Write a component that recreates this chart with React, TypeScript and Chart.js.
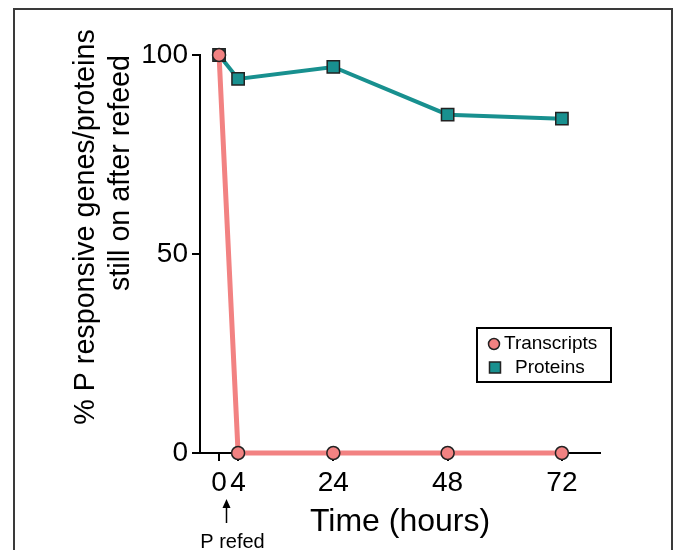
import React, { useEffect, useRef } from "react";
import { Chart, registerables } from "chart.js";

Chart.register(...registerables);

// ---- data ----
const hours = [0, 4, 24, 48, 72];
const transcripts = [100, 0, 0, 0, 0];
const proteins = [100, 94, 97, 85, 84];
const xTickValues = [0, 4, 24, 48, 72];
const yTickValues = [0, 50, 100];
const seriesLabels = ["Transcripts", "Proteins"];
const yTitleLines = ["% P responsive genes/proteins", "still on after refeed"];
const xTitle = "Time (hours)";
const refedLabel = "P refed";

const FONT = "'Liberation Sans', Arial, Helvetica, sans-serif";
const SALMON = "#F28282";
const TEAL = "#18908F";
const EDGE = "#222222";

const decorPlugin = {
  id: "decor",
  afterDraw(chart: any) {
    const ctx: CanvasRenderingContext2D = chart.ctx;
    const xs = chart.scales.x;
    ctx.save();
    // outer frame
    ctx.strokeStyle = "#3a3a3a";
    ctx.lineWidth = 2;
    ctx.beginPath();
    ctx.moveTo(14, 560);
    ctx.lineTo(14, 9);
    ctx.lineTo(672, 9);
    ctx.lineTo(672, 560);
    ctx.stroke();

    // y title lines
    ctx.fillStyle = "#000";
    ctx.font = `28.7px ${FONT}`;
    ctx.textAlign = "center";
    ctx.textBaseline = "middle";
    ctx.save();
    ctx.translate(86, 227);
    ctx.rotate(-Math.PI / 2);
    ctx.fillText(yTitleLines[0], 0, 0);
    ctx.restore();
    ctx.save();
    ctx.translate(121, 173);
    ctx.rotate(-Math.PI / 2);
    ctx.fillText(yTitleLines[1], 0, 0);
    ctx.restore();

    // arrow + P refed
    const ax = Math.round(xs.getPixelForValue(0)) + 7.5;
    ctx.strokeStyle = "#000";
    ctx.lineWidth = 1.5;
    ctx.beginPath();
    ctx.moveTo(ax, 523);
    ctx.lineTo(ax, 506);
    ctx.stroke();
    ctx.beginPath();
    ctx.moveTo(ax, 499);
    ctx.lineTo(ax - 4, 508);
    ctx.lineTo(ax + 4, 508);
    ctx.closePath();
    ctx.fill();
    ctx.font = `20px ${FONT}`;
    ctx.textBaseline = "alphabetic";
    ctx.fillText(refedLabel, ax + 6, 548);

    // legend box
    const lx = 477, ly = 328, lw = 134, lh = 54;
    ctx.fillStyle = "#fff";
    ctx.fillRect(lx, ly, lw, lh);
    ctx.strokeStyle = "#000";
    ctx.lineWidth = 2;
    ctx.strokeRect(lx, ly, lw, lh);
    const ds = chart.data.datasets;
    ctx.font = `19px ${FONT}`;
    ctx.textAlign = "left";
    ctx.textBaseline = "middle";
    // Transcripts
    ctx.fillStyle = ds[0].pointBackgroundColor;
    ctx.strokeStyle = ds[0].pointBorderColor;
    ctx.lineWidth = 1.5;
    ctx.beginPath();
    ctx.arc(494, 344, 5.5, 0, Math.PI * 2);
    ctx.fill();
    ctx.stroke();
    ctx.fillStyle = "#000";
    ctx.fillText(ds[0].label, 504, 344);
    // Proteins
    ctx.fillStyle = ds[1].pointBackgroundColor;
    ctx.strokeStyle = ds[1].pointBorderColor;
    ctx.fillRect(489.5, 362, 11, 11);
    ctx.strokeRect(489.5, 362, 11, 11);
    ctx.fillStyle = "#000";
    ctx.fillText(ds[1].label, 515, 368);
    ctx.restore();
  },
};

export default function App() {
  const ref = useRef<HTMLCanvasElement | null>(null);
  useEffect(() => {
    if (!ref.current) return;
    const chart = new Chart(ref.current, {
      type: "line",
      data: {
        datasets: [
          {
            label: seriesLabels[0],
            data: hours.map((h, i) => ({ x: h, y: transcripts[i] })),
            borderColor: SALMON,
            borderWidth: 5,
            pointStyle: "circle",
            pointRadius: 6.5,
            pointBackgroundColor: SALMON,
            pointBorderColor: EDGE,
            pointBorderWidth: 1.5,
            clip: false as any,
          },
          {
            label: seriesLabels[1],
            data: hours.map((h, i) => ({ x: h, y: proteins[i] })),
            borderColor: TEAL,
            borderWidth: 4,
            pointStyle: "rect",
            pointRadius: 8.7,
            pointBackgroundColor: TEAL,
            pointBorderColor: EDGE,
            pointBorderWidth: 1.5,
            clip: false as any,
          },
        ],
      },
      options: {
        animation: false,
        responsive: true,
        maintainAspectRatio: false,
        layout: { padding: { left: 0, top: 55, right: 73, bottom: 0 } },
        plugins: { legend: { display: false }, tooltip: { enabled: false } },
        scales: {
          x: {
            type: "linear",
            min: -4,
            max: 80,
            afterBuildTicks: (s: any) => {
              s.ticks = xTickValues.map((v) => ({ value: v }));
            },
            afterFit: (s: any) => {
              s.height = 97;
            },
            ticks: {
              color: "#000",
              font: { family: FONT, size: 28 },
              padding: 5,
              maxRotation: 0,
              autoSkip: false,
            },
            grid: {
              drawOnChartArea: false,
              drawTicks: true,
              tickLength: 8,
              color: "#000",
              lineWidth: 2,
            },
            border: { display: true, color: "#000", width: 2 },
            title: {
              display: true,
              text: xTitle,
              color: "#000",
              font: { family: FONT, size: 32, lineHeight: 1.2 },
              padding: { top: 0, bottom: 9 },
            },
          },
          y: {
            type: "linear",
            min: 0,
            max: 100,
            afterBuildTicks: (s: any) => {
              s.ticks = yTickValues.map((v) => ({ value: v }));
            },
            afterFit: (s: any) => {
              s.width = 200;
            },
            ticks: {
              color: "#000",
              font: { family: FONT, size: 28 },
              padding: 4,
            },
            grid: {
              drawOnChartArea: false,
              drawTicks: true,
              tickLength: 8,
              color: "#000",
              lineWidth: 2,
            },
            border: { display: true, color: "#000", width: 2 },
          },
        },
      },
      plugins: [decorPlugin],
    });
    return () => chart.destroy();
  }, []);
  return (
    <div style={{ position: "fixed", left: 0, top: 0, width: 673, height: 550, background: "#fff" }}>
      <canvas ref={ref} />
    </div>
  );
}
